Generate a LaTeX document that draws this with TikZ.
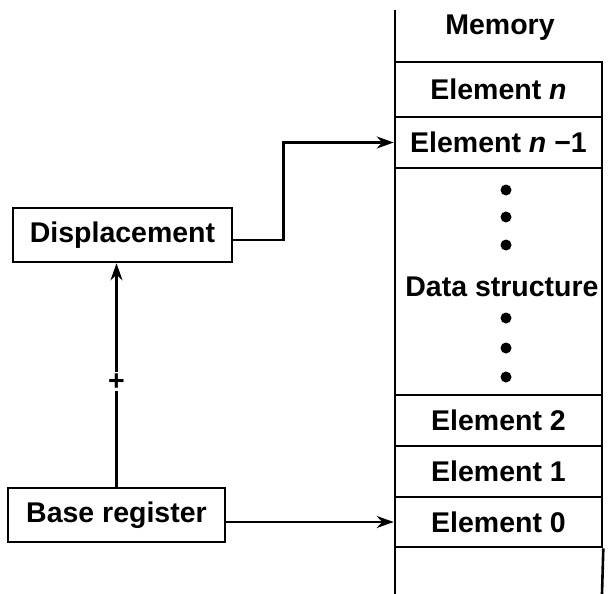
\documentclass[tikz,border=0pt]{standalone}
\usepackage{fontspec}
\setmainfont{Liberation Sans}
\usetikzlibrary{arrows.meta}
\begin{document}
\begin{tikzpicture}[x=1pt,y=-1pt,
  font=\fontsize{28.5}{32}\selectfont\bfseries,
  box/.style={draw,line width=2.6pt,rectangle,inner sep=0pt},
  cell/.style={draw,line width=2.6pt,rectangle,inner sep=0pt,minimum width=207pt},
  arr/.style={line width=2.4pt,-{Stealth[length=17pt,width=12pt]}},
  dotmark/.style={circle,fill,inner sep=0pt,minimum size=11pt}]
\useasboundingbox (0,0) rectangle (608,594);
% memory column
\node (mem) at (500,28) {Memory};
\node[cell,minimum height=55pt] (en) at (498.5,89.5) {Element \textit{n}};
\node[cell,minimum height=51pt] (en1) at (498.5,142.5) {Element \textit{n} −1};
\node[cell,minimum height=227pt] (ds) at (498.5,281.5) {};
\node (dstext) at (502,287) {Data structure};
\node[dotmark] (d1) at (506,190) {};
\node[dotmark] (d2) at (506,217) {};
\node[dotmark] (d3) at (506,245) {};
\node[dotmark] (d4) at (506,318) {};
\node[dotmark] (d5) at (506,348) {};
\node[dotmark] (d6) at (506,377) {};
\node[cell,minimum height=51pt] (e2) at (498.5,420.5) {Element 2};
\node[cell,minimum height=51pt] (e1) at (498.5,471.5) {Element 1};
\node[cell,minimum height=50pt] (e0) at (498.5,522) {Element 0};
\coordinate (tl) at (395,10);
\coordinate (bl) at (395,594);
\coordinate (br) at (602,594);
\draw[line width=2.6pt] (tl) -- (bl);
\draw[line width=2.6pt] (e0.south east) -- (br);
% registers
\node[box,minimum width=219pt,minimum height=54pt] (disp) at (122.5,235) {Displacement};
\node[box,minimum width=217pt,minimum height=54pt] (base) at (116.5,515) {Base register};
% connectors
\draw[arr] ([yshift=-5pt]disp.east) -- ++(50,0) |- (en1.west);
\draw[arr] (base.east |- e0.west) -- (e0.west);
\draw[arr] (base.north) -- (base.north |- disp.south)
  node[pos=0.47,fill=white,inner sep=1pt] (plus) {+};
\end{tikzpicture}
\end{document}
